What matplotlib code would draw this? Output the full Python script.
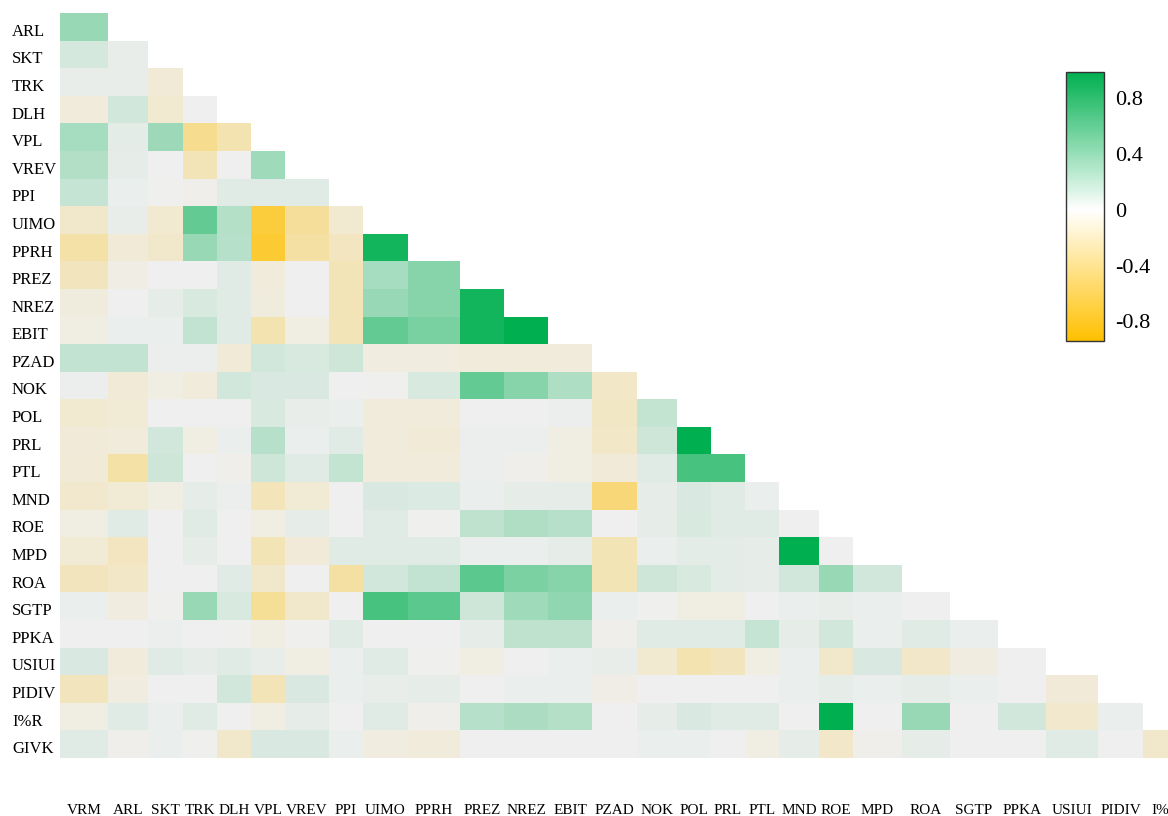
import numpy as np
import matplotlib
matplotlib.use("Agg")
import matplotlib.pyplot as plt
from matplotlib import transforms
from matplotlib.cm import ScalarMappable
from matplotlib.colors import LinearSegmentedColormap, Normalize

plt.rcParams['font.family'] = ['Liberation Serif', 'DejaVu Serif']

names = ["VRM", "ARL", "SKT", "TRK", "DLH", "VPL", "VREV", "PPI", "UIMO", "PPRH",
         "PREZ", "NREZ", "EBIT", "PZAD", "NOK", "POL", "PRL", "PTL", "MND", "ROE",
         "MPD", "ROA", "SGTP", "PPKA", "USIUI", "PIDIV", "I%R", "GIVK"]

# lower triangle: each row holds the correlations with the variables before it
ARL = [0.36]
SKT = [0.11, 0.03]
TRK = [0.03, 0.03, -0.10]
DLH = [-0.08, 0.12, -0.12, 0.00]
VPL = [0.30, 0.05, 0.34, -0.38, -0.24]
VREV = [0.25, 0.04, 0.00, -0.22, 0.00, 0.33]
PPI = [0.17, 0.02, -0.01, -0.02, 0.06, 0.07, 0.06]
UIMO = [-0.14, 0.03, -0.12, 0.57, 0.24, -0.70, -0.33, -0.12]
PPRH = [-0.28, -0.10, -0.14, 0.36, 0.23, -0.74, -0.30, -0.19, 0.91]
PREZ = [-0.20, -0.04, 0.00, 0.00, 0.07, -0.08, 0.00, -0.22, 0.30, 0.43]
NREZ = [-0.07, 0.00, 0.04, 0.10, 0.06, -0.07, 0.00, -0.22, 0.35, 0.43, 0.91]
EBIT = [-0.05, 0.02, 0.02, 0.19, 0.06, -0.24, -0.05, -0.22, 0.57, 0.49, 0.91, 0.99]
PZAD = [0.19, 0.19, 0.01, 0.01, -0.10, 0.12, 0.10, 0.14, -0.06, -0.06, -0.08, -0.08, -0.08]
NOK = [0.01, -0.10, -0.05, -0.08, 0.12, 0.09, 0.09, 0.00, -0.01, 0.10, 0.57, 0.43, 0.27, -0.16]
POL = [-0.12, -0.11, 0.00, 0.00, 0.00, 0.10, 0.03, 0.02, -0.08, -0.08, 0.00, 0.00, 0.01, -0.17,
       0.18]
PRL = [-0.09, -0.08, 0.12, -0.05, 0.02, 0.23, 0.02, 0.06, -0.08, -0.10, 0.01, 0.01, -0.05, -0.16,
       0.14, 0.99]
PTL = [-0.10, -0.29, 0.14, 0.00, -0.02, 0.14, 0.06, 0.18, -0.08, -0.08, 0.01, -0.02, -0.05, -0.09,
       0.06, 0.69, 0.69]
MND = [-0.13, -0.11, -0.05, 0.04, 0.01, -0.21, -0.11, 0.00, 0.09, 0.08, 0.02, 0.04, 0.04, -0.47,
       0.04, 0.09, 0.07, 0.02]
ROE = [-0.05, 0.06, 0.00, 0.06, 0.00, -0.05, 0.04, 0.00, 0.07, -0.01, 0.20, 0.26, 0.23, 0.00,
       0.04, 0.10, 0.07, 0.06, 0.00]
MPD = [-0.11, -0.19, 0.00, 0.04, 0.00, -0.23, -0.09, 0.06, 0.07, 0.06, 0.02, 0.02, 0.04, -0.23,
       0.02, 0.05, 0.05, 0.04, 0.99, 0.00]
ROA = [-0.20, -0.16, 0.00, 0.00, 0.06, -0.14, 0.00, -0.30, 0.12, 0.19, 0.61, 0.47, 0.43, -0.23,
       0.14, 0.10, 0.05, 0.04, 0.12, 0.36, 0.12]
SGTP = [0.02, -0.06, -0.01, 0.36, 0.10, -0.35, -0.14, 0.00, 0.69, 0.61, 0.14, 0.33, 0.39, 0.02,
        -0.01, -0.05, -0.05, 0.00, 0.02, 0.03, 0.02, 0.00]
PPKA = [0.00, 0.00, 0.01, 0.00, -0.01, -0.05, -0.01, 0.06, 0.00, 0.00, 0.04, 0.20, 0.20, -0.02,
        0.07, 0.07, 0.07, 0.17, 0.04, 0.12, 0.02, 0.07, 0.02]
USIUI = [0.09, -0.08, 0.06, 0.04, 0.06, 0.03, -0.05, 0.02, 0.06, -0.01, -0.05, 0.00, 0.02, 0.03,
         -0.12, -0.24, -0.20, -0.05, 0.02, -0.14, 0.09, -0.15, -0.06, 0.00]
PIDIV = [-0.20, -0.06, 0.00, 0.00, 0.12, -0.22, 0.09, 0.02, 0.03, 0.04, 0.00, 0.02, 0.02, -0.03,
         0.00, 0.00, 0.00, 0.00, 0.02, 0.04, 0.02, 0.04, 0.02, 0.00, -0.09]
I_R = [-0.05, 0.06, 0.02, 0.06, 0.00, -0.05, 0.04, 0.00, 0.07, -0.02, 0.23, 0.28, 0.24, 0.00,
       0.04, 0.09, 0.07, 0.06, 0.00, 0.99, 0.00, 0.36, 0.00, 0.12, -0.13, 0.02]
GIVK = [0.06, -0.02, 0.02, -0.01, -0.14, 0.09, 0.09, 0.02, -0.06, -0.08, 0.00, 0.00, 0.00, 0.00,
        0.02, 0.02, 0.00, -0.05, 0.04, -0.15, -0.02, 0.04, 0.00, 0.00, 0.07, 0.00, -0.14]

rows = [ARL, SKT, TRK, DLH, VPL, VREV, PPI, UIMO, PPRH, PREZ, NREZ, EBIT, PZAD, NOK, POL,
        PRL, PTL, MND, ROE, MPD, ROA, SGTP, PPKA, USIUI, PIDIV, I_R, GIVK]

vmin, vmax = -0.94, 0.99
cbar_ticks = [0.8, 0.4, 0, -0.4, -0.8]
cbar_labels = ["0.8", "0.4", "0", "-0.4", "-0.8"]

# layout (pixels): the columns are as wide as their labels
col_w = [48, 40, 35, 34, 34, 34, 44, 34, 45, 52, 44, 44, 44, 45, 40, 34, 34, 34, 40, 34,
         49, 48, 48, 48, 52, 45, 44]

n = len(rows)
mat = np.full((n, n), np.nan)
for i, r in enumerate(rows):
    mat[i, :len(r)] = r

x_edges = np.concatenate([[0], np.cumsum(col_w)])
y_edges = np.arange(n + 1)

gold, green = "#FFC000", "#00B050"
z = -vmin / (vmax - vmin)
cmap_cells = LinearSegmentedColormap.from_list("cells", [(0, gold), (z, "#EFEFEF"), (1, green)])
cmap_bar = LinearSegmentedColormap.from_list("bar", [(0, gold), (z, "#FFFFFF"), (1, green)])
norm = Normalize(vmin, vmax)

W, H = 1168, 816
fig = plt.figure(figsize=(W / 100, H / 100), dpi=100)
ax = fig.add_axes([60 / W, 58 / H, x_edges[-1] / W, 745 / H])
ax.pcolormesh(x_edges, y_edges, np.ma.masked_invalid(mat), cmap=cmap_cells, norm=norm)
ax.set_xlim(0, x_edges[-1])
ax.set_ylim(n, 0)
ax.axis("off")

# column labels along the bottom
xc = (x_edges[:-1] + x_edges[1:]) / 2
tx = transforms.blended_transform_factory(ax.transData, fig.transFigure)
for x, lab in zip(xc, names[:-1]):
    ax.text(x, 1.5 / H, lab, transform=tx, ha="center", va="baseline", fontsize=11)

# row labels on the left
ty = transforms.offset_copy(transforms.blended_transform_factory(fig.transFigure, ax.transData),
                            fig=fig, y=-9, units="dots")
for j, lab in enumerate(names[1:]):
    ax.text(12 / W, j + 0.5, lab, transform=ty, ha="left", va="baseline", fontsize=12)

cax = fig.add_axes([1066 / W, (H - 341) / H, 38 / W, 269 / H])
cb = fig.colorbar(ScalarMappable(norm=norm, cmap=cmap_bar), cax=cax)
cb.set_ticks(cbar_ticks, labels=cbar_labels)
cb.ax.tick_params(length=0, pad=8, labelsize=16)
cb.outline.set_edgecolor("#333333")
cb.outline.set_linewidth(1)

fig.savefig("out.png", dpi=100)
